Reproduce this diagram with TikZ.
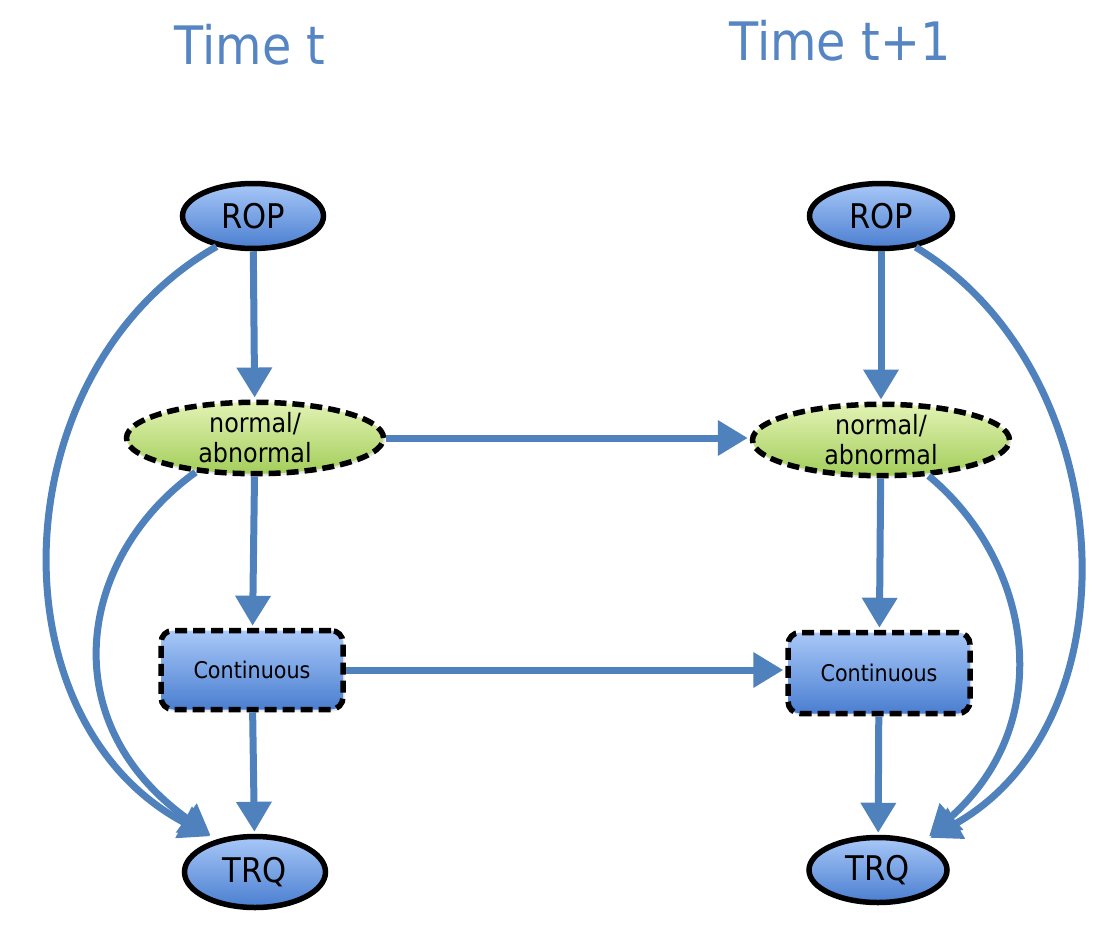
\documentclass[tikz,border=0pt]{standalone}
\usepackage{fontspec}
\setmainfont{DejaVu Sans}[FakeStretch=0.9]
\usetikzlibrary{shapes.geometric,arrows.meta,shadows}
\definecolor{arrowblue}{HTML}{4F81BD}
\definecolor{titleblue}{HTML}{5585C2}
\definecolor{nodetop}{HTML}{A8C8F8}
\definecolor{nodebot}{HTML}{4A7ED0}
\definecolor{greentop}{HTML}{E2F2B4}
\definecolor{greenbot}{HTML}{A3CE5A}
\tikzset{
  title/.style={text=titleblue, font=\fontsize{53}{60}\selectfont, anchor=base, inner sep=0pt},
  varell/.style={ellipse, draw=black, line width=5.5pt, top color=nodetop, bottom color=nodebot,
     minimum width=141pt, minimum height=65pt, inner sep=0pt,
     font=\fontsize{34}{38}\selectfont,
     drop shadow={opacity=0.2, shadow xshift=1.5pt, shadow yshift=-2pt}},
  hidell/.style={ellipse, draw=black, line width=5.5pt, dash pattern=on 12pt off 6pt,
     top color=greentop, bottom color=greenbot,
     minimum width=257pt, minimum height=63pt, inner sep=0pt, align=center,
     font=\fontsize{26.5}{30}\selectfont,
     drop shadow={opacity=0.2, shadow xshift=1.5pt, shadow yshift=-2pt}},
  contbox/.style={rectangle, rounded corners=12pt, draw=black, line width=5.5pt, dash pattern=on 12pt off 6pt,
     top color=nodetop, bottom color=nodebot,
     minimum width=182pt, minimum height=79pt, inner sep=0pt,
     font=\fontsize{23}{28}\selectfont,
     drop shadow={opacity=0.2, shadow xshift=1.5pt, shadow yshift=-2pt}},
  arr/.style={draw=arrowblue, line width=7pt, -{Triangle[length=30pt,width=34pt]}, shorten >=2pt},
}
\begin{document}
\begin{tikzpicture}[x=1pt,y=-1pt]
\fill[white] (0,0) rectangle (1116,950);
\useasboundingbox (0,0) rectangle (1116,950);

\node[title] (tl) at (250,65) {Time t};
\node[title] (tr) at (840,60) {Time t+1};

\node[varell] (ropL) at (253,216) {ROP};
\node[varell, minimum width=143pt] (ropR) at (881,216) {ROP};
\node[hidell] (normL) at (255,438) {normal/\\abnormal};
\node[hidell, minimum height=65pt] (normR) at (881,440) {normal/\\abnormal};
\node[contbox] (contL) at (252,670) {Continuous};
\node[contbox, minimum height=81pt] (contR) at (879,673) {Continuous};
\node[varell, minimum height=71pt] (trqL) at (255,872) {TRQ};
\node[varell, minimum width=138pt] (trqR) at (878,870) {TRQ};

% verticals
\draw[arr] (ropL) -- (normL);
\draw[arr] (normL) -- (contL);
\draw[arr] (contL) -- (trqL);
\draw[arr] (ropR) -- (normR);
\draw[arr] (normR) -- (contR);
\draw[arr] (contR) -- (trqR);
% horizontals
\draw[arr] (normL.east) -- (normL.east -| normR.west);
\draw[arr] (contL.east) -- (contL.east -| contR.west);
% curves left
\draw[arr, shorten >=7pt] (ropL.220) .. controls (0,370) and (-10,720) .. (trqL.140);
\draw[arr, shorten >=7pt] (normL.210) .. controls (80,555) and (50,720) .. (trqL.140);
% curves right
\draw[arr, shorten >=9pt] (ropR.318) .. controls (1120,370) and (1140,720) .. (trqR.32);
\draw[arr, shorten >=9pt] (normR.323) .. controls (1030,560) and (1060,720) .. (trqR.32);
\end{tikzpicture}
\end{document}
